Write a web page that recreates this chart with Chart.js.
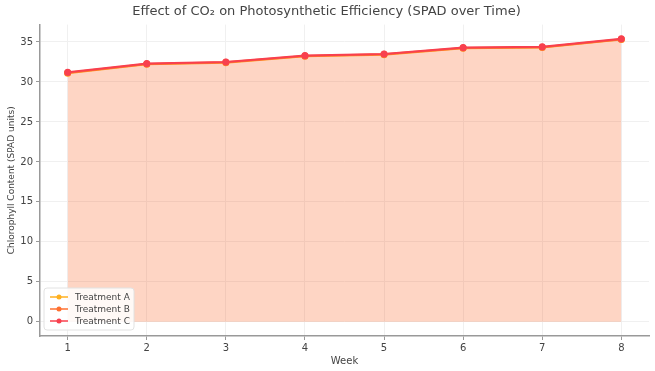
<!DOCTYPE html>
<html>
<head>
<meta charset="utf-8">
<script src="https://cdn.jsdelivr.net/npm/chart.js@4"></script>
<style>
  html, body { margin: 0; padding: 0; background: #fff; }
  #wrap { width: 655px; height: 371px; }
</style>
</head>
<body>
<div id="wrap"><canvas id="c" width="655" height="371"></canvas></div>
<script>
// Data (the three treatments lie almost on top of each other)
const weeks = [1, 2, 3, 4, 5, 6, 7, 8];
const treatmentA = [31.1, 32.2, 32.4, 33.2, 33.4, 34.2, 34.3, 35.3];
const treatmentB = [31.15, 32.25, 32.45, 33.25, 33.45, 34.25, 34.35, 35.35];
const treatmentC = [31.2, 32.3, 32.5, 33.3, 33.5, 34.3, 34.4, 35.4];
const yTicks = [0, 5, 10, 15, 20, 25, 30, 35];

const series = [
    { label: 'Treatment A', values: treatmentA, color: '#FFB020', fill: 'rgba(255,165,0,0.10)', order: 3 },
    { label: 'Treatment B', values: treatmentB, color: '#FF7030', fill: 'rgba(255,90,34,0.10)', order: 2 },
    { label: 'Treatment C', values: treatmentC, color: '#F8404E', fill: 'rgba(250,70,90,0.10)', order: 1 }
];

// legend drawn inside the plot, lower left
const innerLegend = {
    id: 'innerLegend',
    afterDraw(chart) {
        const ctx = chart.ctx;
        const x = chart.chartArea.left + 4, y = 288;
        ctx.save();
        ctx.fillStyle = 'rgba(255,255,255,0.85)';
        ctx.strokeStyle = '#e2e2e2';
        ctx.lineWidth = 1;
        ctx.beginPath();
        ctx.roundRect(x, y, 90, 42, 3);
        ctx.fill();
        ctx.stroke();
        ctx.font = '9px "DejaVu Sans"';
        ctx.textBaseline = 'middle';
        chart.data.datasets.forEach((ds, i) => {
            const ly = y + 9 + i * 12;
            ctx.strokeStyle = ds.borderColor;
            ctx.lineWidth = 1.5;
            ctx.beginPath();
            ctx.moveTo(x + 6, ly);
            ctx.lineTo(x + 24, ly);
            ctx.stroke();
            ctx.fillStyle = ds.borderColor;
            ctx.beginPath();
            ctx.arc(x + 15, ly, 2.5, 0, Math.PI * 2);
            ctx.fill();
            ctx.fillStyle = '#444';
            ctx.fillText(ds.label, x + 31, ly + 0.5);
        });
        ctx.restore();
    }
};

const ctx = document.getElementById('c').getContext('2d');
new Chart(ctx, {
    type: 'line',
    data: {
        datasets: series.map(s => ({
            label: s.label,
            order: s.order,
            data: weeks.map((w, i) => ({ x: w, y: s.values[i] })),
            borderColor: s.color,
            backgroundColor: s.fill,
            pointBackgroundColor: s.color,
            pointBorderColor: s.color,
            pointRadius: 2.5,
            borderWidth: 2,
            tension: 0,
            fill: 'origin'
        }))
    },
    options: {
        responsive: false,
        animation: false,
        layout: { padding: { left: 0, right: 2, top: 0, bottom: 0 } },
        plugins: {
            legend: { display: false },
            tooltip: { enabled: false },
            title: {
                display: true,
                text: 'Effect of CO₂ on Photosynthetic Efficiency (SPAD over Time)',
                color: '#444',
                font: { family: 'DejaVu Sans', size: 13, weight: 'normal' },
                padding: { top: 4, bottom: 5 }
            }
        },
        scales: {
            x: {
                type: 'linear',
                min: 0.65,
                max: 8.35,
                afterBuildTicks: s => { s.ticks = weeks.map(v => ({ value: v })); },
                afterFit: s => { s.height = 35; },
                ticks: { color: '#444', font: { family: 'DejaVu Sans', size: 10 }, padding: 2 },
                grid: { color: '#f0f0f0', tickColor: '#999', tickLength: 4 },
                border: { color: '#999', width: 1.5 },
                title: {
                    display: true, text: 'Week', color: '#444',
                    font: { family: 'DejaVu Sans', size: 10 }, padding: { top: 2 }
                }
            },
            y: {
                min: -1.77,
                max: 37.17,
                afterBuildTicks: s => { s.ticks = yTicks.map(v => ({ value: v })); },
                afterFit: s => { s.width = 40; },
                ticks: { color: '#444', font: { family: 'DejaVu Sans', size: 10 }, padding: 3 },
                grid: { color: '#f0f0f0', tickColor: '#999', tickLength: 4 },
                border: { color: '#999', width: 1.5 },
                title: {
                    display: true, text: 'Chlorophyll Content (SPAD units)', color: '#444',
                    font: { family: 'DejaVu Sans', size: 9 }, padding: { top: 6, bottom: 0 }
                }
            }
        }
    },
    plugins: [innerLegend]
});
</script>
</body>
</html>
